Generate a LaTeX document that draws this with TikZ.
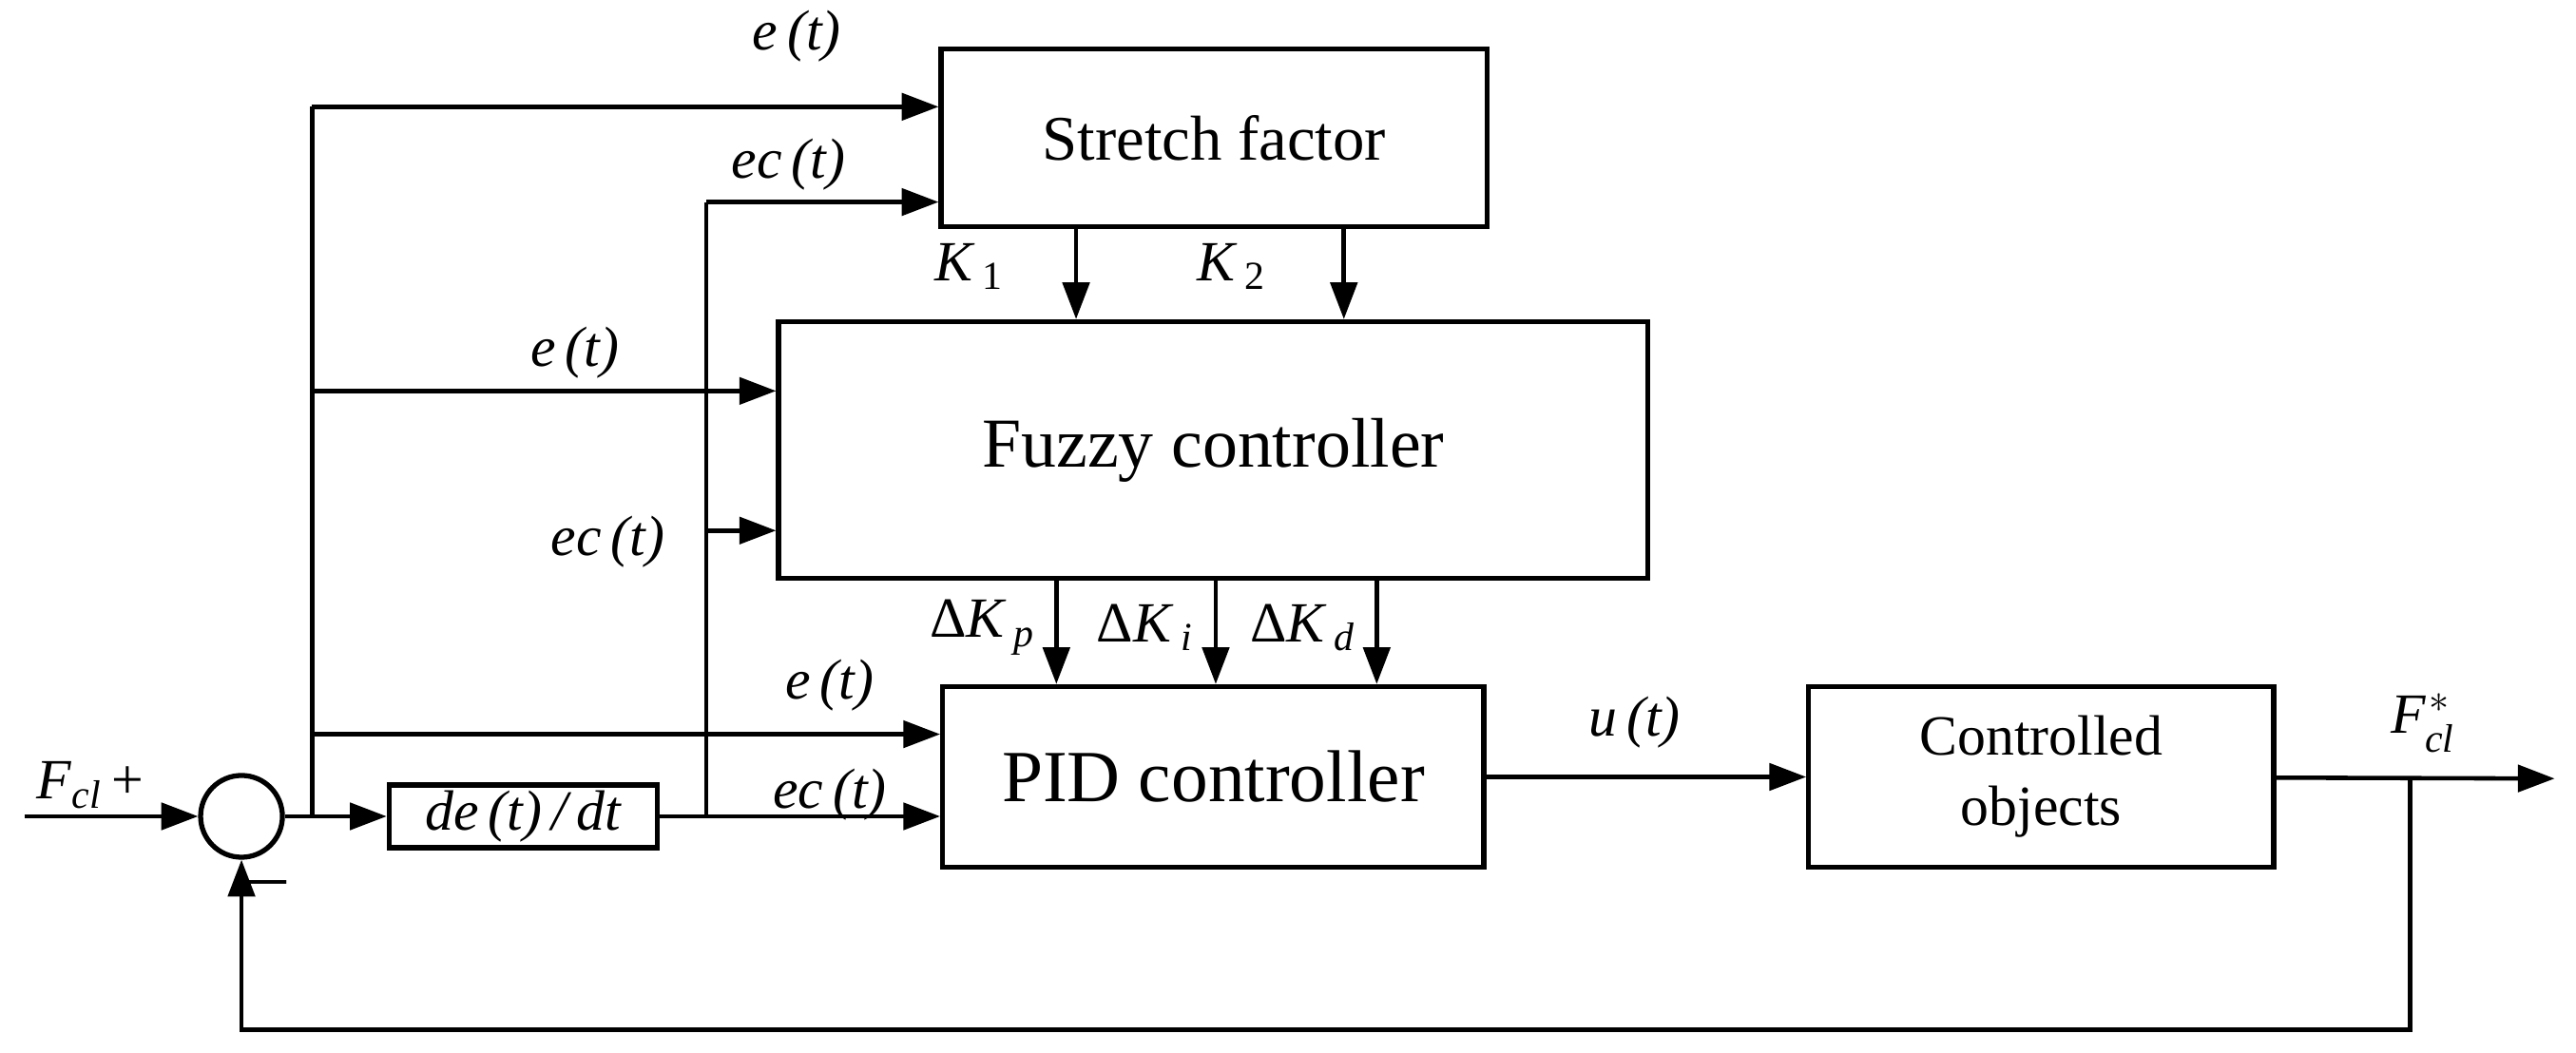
\documentclass[tikz,border=0pt]{standalone}
\usepackage{fontspec}
\setmainfont{Liberation Serif}
\usetikzlibrary{arrows.meta}
\newcommand{\sbs}[1]{\textsubscript{\itshape #1}}
\begin{document}
\begin{tikzpicture}[x=0.01728cm,y=-0.01728cm,
  line width=1.3pt,
  blk/.style={draw,line width=1.5pt,inner sep=0pt,align=center},
  arr/.style={-{Triangle[length=11pt,width=8pt]}},
  lab/.style={font=\fontsize{17}{20}\selectfont\itshape}]
\useasboundingbox (0,0) rectangle (1568,640.6);
\node[blk,minimum width=5.74cm,minimum height=1.87cm,font=\fontsize{19}{22}\selectfont] (sf) at (739,84) {Stretch factor};
\node[blk,minimum width=9.14cm,minimum height=2.70cm,font=\fontsize{21}{24}\selectfont] (fz) at (738.5,274) {Fuzzy controller};
\node[blk,minimum width=5.69cm,minimum height=1.90cm,font=\fontsize{22}{26}\selectfont] (pid) at (738.5,473) {PID controller};
\node[blk,minimum width=4.89cm,minimum height=1.90cm,font=\fontsize{17}{21}\selectfont] (co) at (1242.5,473) {Controlled\\objects};
\node[blk,minimum width=2.82cm,minimum height=0.66cm,font=\fontsize{17}{20}\selectfont\itshape] (dd) at (318.5,497) {de\,(t)\,/\,dt};
\node[draw,line width=1.5pt,circle,minimum size=0.86cm,inner sep=0pt] (sum) at (147,497) {};
\coordinate (in) at (15,497);
\coordinate (out) at (1555,474);
\coordinate (br) at (1467,474);
\coordinate (a1) at (190,497);
\coordinate (a2) at (430,497);
% input
\draw[arr] (in) -- (sum);
\node[lab] at (55,478) {F\sbs{cl}\,\upshape +};
\node[font=\fontsize{22}{22}\selectfont] at (163,542) {–};
\draw[arr] (sum) -- (dd);
% left vertical
\draw (a1) -- (190,65);
\draw[arr] (190,65) -- (sf.west |- 0,65);
\draw[arr] (190,238) -- (fz.west |- 0,238);
\draw[arr] (190,447) -- (pid.west |- 0,447);
\node[lab] at (485,22) {e\,(t)};
\node[lab] at (350,215) {e\,(t)};
\node[lab] at (505,417) {e\,(t)};
% second vertical
\draw (dd) -- (a2) -- (430,123);
\draw[arr] (430,123) -- (sf.west |- 0,123);
\draw[arr] (430,323) -- (fz.west |- 0,323);
\draw[arr] (a2) -- (pid.west |- a2);
\node[lab] at (480,100) {ec\,(t)};
\node[lab] at (370,330) {ec\,(t)};
\node[lab] at (505,484) {ec\,(t)};
% K arrows
\draw[arr] (sf.south -| 655,0) -- (fz.north -| 655,0);
\draw[arr] (sf.south -| 818,0) -- (fz.north -| 818,0);
\node[lab] at (590,162) {K\,\textsubscript{\upshape 1}};
\node[lab] at (750,162) {K\,\textsubscript{\upshape 2}};
\draw[arr] (fz.south -| 643,0) -- (pid.north -| 643,0);
\draw[arr] (fz.south -| 740,0) -- (pid.north -| 740,0);
\draw[arr] (fz.south -| 838,0) -- (pid.north -| 838,0);
\node[lab] at (598,382) {\upshape Δ\itshape K\,\sbs{p}};
\node[lab] at (697,382) {\upshape Δ\itshape K\,\sbs{i}};
\node[lab] at (793,382) {\upshape Δ\itshape K\,\sbs{d}};
% output
\draw[arr] (pid) -- (co);
\node[lab] at (995,440) {u\,(t)};
\draw[arr] (co) -- (out);
\node[lab] at (1475,440) {F\,$^{\!*}$\hspace{-0.45em}\raisebox{-0.4ex}{\sbs{cl}}};
\draw[arr] (br) -- (1467,627) -- (147,627) -- (sum);
\end{tikzpicture}
\end{document}
